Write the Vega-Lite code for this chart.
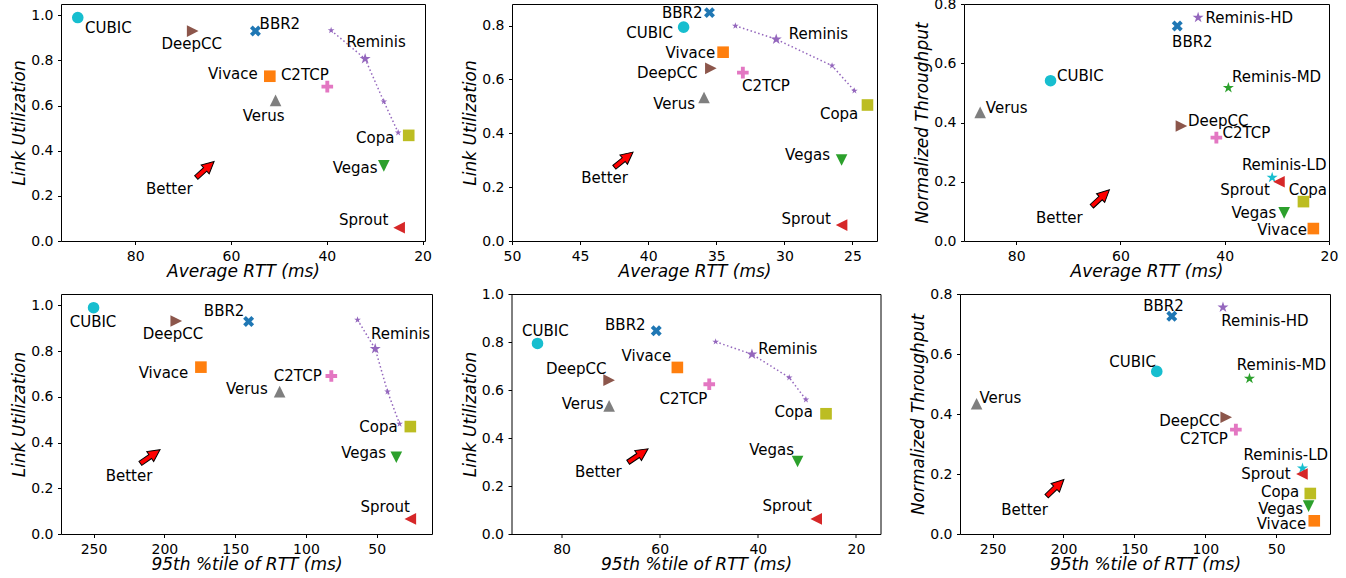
{
"$schema": "https://vega.github.io/schema/vega-lite/v6.json",
"padding": {"left": 10, "top": -4, "right": 0, "bottom": 0},
"config": {
  "view": {"stroke": "#000", "strokeWidth": 1},
  "font": "DejaVu Sans",
  "axis": {"domain": false, "grid": false, "ticks": true, "tickColor": "#000", "tickWidth": 1, "tickSize": 3.5,
    "labelFont": "DejaVu Sans", "labelFontSize": 14, "labelColor": "#000", "labelPadding": 4.5,
    "labelFlush": false, "labelOverlap": false, "labelBound": false,
    "titleFont": "DejaVu Sans", "titleFontSize": 17, "titleFontStyle": "italic", "titleFontWeight": "normal", "titleColor": "#000"},
  "axisX": {"titlePadding": 0},
  "axisY": {"titlePadding": 2},
  "text": {"font": "DejaVu Sans", "fontSize": 15, "color": "#000", "align": "center", "baseline": "middle"}
},
"datasets": {
  "pts": [
    {"panel":1,"method":"CUBIC","x":92.0,"y":0.99,"lx":85.6,"ly":0.945},
    {"panel":1,"method":"DeepCC","x":68.0,"y":0.930,"lx":68.2,"ly":0.871},
    {"panel":1,"method":"BBR2","x":54.9,"y":0.930,"lx":49.8,"ly":0.963},
    {"panel":1,"method":"Vivace","x":51.9,"y":0.730,"lx":59.6,"ly":0.740},
    {"panel":1,"method":"C2TCP","x":39.9,"y":0.684,"lx":44.6,"ly":0.736},
    {"panel":1,"method":"Verus","x":50.7,"y":0.623,"lx":53.2,"ly":0.554},
    {"panel":1,"method":"Reminis","x":32.0,"y":0.807,"lx":29.7,"ly":0.881},
    {"panel":1,"method":"Copa","x":22.9,"y":0.468,"lx":29.9,"ly":0.458},
    {"panel":1,"method":"Vegas","x":28.1,"y":0.333,"lx":34.1,"ly":0.324},
    {"panel":1,"method":"Sprout","x":24.9,"y":0.059,"lx":32.3,"ly":0.094},
    {"panel":1,"method":"Better","x":65.4,"y":0.317,"lx":72.9,"ly":0.232},

    {"panel":2,"method":"BBR2","x":35.5,"y":0.848,"lx":37.5,"ly":0.848},
    {"panel":2,"method":"CUBIC","x":37.4,"y":0.794,"lx":39.9,"ly":0.772},
    {"panel":2,"method":"Vivace","x":34.5,"y":0.701,"lx":36.9,"ly":0.697},
    {"panel":2,"method":"DeepCC","x":35.4,"y":0.641,"lx":38.6,"ly":0.625},
    {"panel":2,"method":"C2TCP","x":33.05,"y":0.625,"lx":31.35,"ly":0.576},
    {"panel":2,"method":"Verus","x":35.9,"y":0.533,"lx":38.1,"ly":0.508},
    {"panel":2,"method":"Reminis","x":30.6,"y":0.749,"lx":27.5,"ly":0.768},
    {"panel":2,"method":"Copa","x":23.9,"y":0.505,"lx":25.98,"ly":0.472},
    {"panel":2,"method":"Vegas","x":25.8,"y":0.301,"lx":28.3,"ly":0.318},
    {"panel":2,"method":"Sprout","x":25.8,"y":0.059,"lx":28.4,"ly":0.082},
    {"panel":2,"method":"Better","x":41.8,"y":0.302,"lx":43.2,"ly":0.235},

    {"panel":3,"method":"Reminis-HD","x":45.1,"y":0.754,"lx":35.3,"ly":0.754},
    {"panel":3,"method":"BBR2","x":49.1,"y":0.726,"lx":46.2,"ly":0.671},
    {"panel":3,"method":"CUBIC","x":73.4,"y":0.541,"lx":67.7,"ly":0.558},
    {"panel":3,"method":"Reminis-MD","x":39.3,"y":0.517,"lx":30.05,"ly":0.552},
    {"panel":3,"method":"Verus","x":86.9,"y":0.434,"lx":81.8,"ly":0.450},
    {"panel":3,"method":"DeepCC","x":48.3,"y":0.388,"lx":41.25,"ly":0.406},
    {"panel":3,"method":"C2TCP","x":41.6,"y":0.349,"lx":35.85,"ly":0.366},
    {"panel":3,"method":"Reminis-LD","x":30.9,"y":0.214,"lx":28.6,"ly":0.256},
    {"panel":3,"method":"Sprout","x":29.6,"y":0.200,"lx":36.1,"ly":0.173},
    {"panel":3,"method":"Copa","x":24.9,"y":0.133,"lx":24.05,"ly":0.173},
    {"panel":3,"method":"Vegas","x":28.6,"y":0.095,"lx":34.4,"ly":0.094},
    {"panel":3,"method":"Vivace","x":23.0,"y":0.042,"lx":29.0,"ly":0.037},
    {"panel":3,"method":"Better","x":63.8,"y":0.145,"lx":71.7,"ly":0.076},

    {"panel":4,"method":"CUBIC","x":250,"y":0.99,"lx":250.4,"ly":0.927},
    {"panel":4,"method":"DeepCC","x":191.6,"y":0.932,"lx":193.9,"ly":0.876},
    {"panel":4,"method":"BBR2","x":140.5,"y":0.930,"lx":157.8,"ly":0.974},
    {"panel":4,"method":"Vivace","x":174.2,"y":0.730,"lx":200.6,"ly":0.704},
    {"panel":4,"method":"C2TCP","x":82.1,"y":0.691,"lx":105.8,"ly":0.691},
    {"panel":4,"method":"Verus","x":118.6,"y":0.623,"lx":141.8,"ly":0.635},
    {"panel":4,"method":"Reminis","x":51.1,"y":0.810,"lx":33.2,"ly":0.873},
    {"panel":4,"method":"Copa","x":26.3,"y":0.470,"lx":48.8,"ly":0.470},
    {"panel":4,"method":"Vegas","x":36.2,"y":0.336,"lx":59.3,"ly":0.353},
    {"panel":4,"method":"Sprout","x":26.3,"y":0.066,"lx":44.0,"ly":0.117},
    {"panel":4,"method":"Better","x":210.0,"y":0.339,"lx":225.0,"ly":0.255},

    {"panel":5,"method":"CUBIC","x":84.9,"y":0.794,"lx":83.3,"ly":0.845},
    {"panel":5,"method":"BBR2","x":60.7,"y":0.847,"lx":67.0,"ly":0.870},
    {"panel":5,"method":"Vivace","x":56.4,"y":0.694,"lx":62.7,"ly":0.741},
    {"panel":5,"method":"DeepCC","x":70.3,"y":0.641,"lx":77.0,"ly":0.687},
    {"panel":5,"method":"C2TCP","x":49.9,"y":0.624,"lx":55.15,"ly":0.561},
    {"panel":5,"method":"Verus","x":70.3,"y":0.534,"lx":75.7,"ly":0.540},
    {"panel":5,"method":"Reminis","x":41.2,"y":0.749,"lx":33.9,"ly":0.769},
    {"panel":5,"method":"Copa","x":26.1,"y":0.501,"lx":32.7,"ly":0.509},
    {"panel":5,"method":"Vegas","x":31.9,"y":0.302,"lx":37.2,"ly":0.351},
    {"panel":5,"method":"Sprout","x":28.1,"y":0.063,"lx":34.0,"ly":0.118},
    {"panel":5,"method":"Better","x":64.4,"y":0.327,"lx":72.5,"ly":0.258},

    {"panel":6,"method":"Reminis-HD","x":87.5,"y":0.756,"lx":57.9,"ly":0.710},
    {"panel":6,"method":"BBR2","x":123.6,"y":0.726,"lx":129.5,"ly":0.759},
    {"panel":6,"method":"CUBIC","x":134.2,"y":0.542,"lx":151.3,"ly":0.575},
    {"panel":6,"method":"Reminis-MD","x":68.8,"y":0.518,"lx":46.3,"ly":0.564},
    {"panel":6,"method":"Verus","x":261.3,"y":0.434,"lx":244.5,"ly":0.452},
    {"panel":6,"method":"DeepCC","x":85.2,"y":0.389,"lx":111.2,"ly":0.376},
    {"panel":6,"method":"C2TCP","x":78.4,"y":0.348,"lx":100.9,"ly":0.317},
    {"panel":6,"method":"Reminis-LD","x":31.4,"y":0.219,"lx":43.2,"ly":0.264},
    {"panel":6,"method":"Sprout","x":31.8,"y":0.200,"lx":57.2,"ly":0.200},
    {"panel":6,"method":"Copa","x":25.9,"y":0.135,"lx":47.2,"ly":0.140},
    {"panel":6,"method":"Vegas","x":27.1,"y":0.093,"lx":46.8,"ly":0.085},
    {"panel":6,"method":"Vivace","x":23.1,"y":0.044,"lx":46.2,"ly":0.033},
    {"panel":6,"method":"Better","x":205.8,"y":0.154,"lx":227.4,"ly":0.080}
  ],
  "sweep": [
    {"panel":1,"x":39.1,"y":0.933},{"panel":1,"x":32.0,"y":0.807},{"panel":1,"x":28.1,"y":0.618},{"panel":1,"x":25.1,"y":0.480},
    {"panel":2,"x":33.6,"y":0.799},{"panel":2,"x":30.6,"y":0.749},{"panel":2,"x":26.5,"y":0.651},{"panel":2,"x":24.86,"y":0.558},
    {"panel":4,"x":63.6,"y":0.937},{"panel":4,"x":51.1,"y":0.810},{"panel":4,"x":42.4,"y":0.623},{"panel":4,"x":33.9,"y":0.482},
    {"panel":5,"x":48.6,"y":0.801},{"panel":5,"x":41.2,"y":0.749},{"panel":5,"x":33.6,"y":0.652},{"panel":5,"x":30.2,"y":0.560}
  ]
},
"spacing": 6,
"vconcat": [
{"hconcat": [
{"width": 364, "height": 237,
 "layer": [
  {"data": {"name": "sweep"}, "transform": [{"filter": "datum.panel == 1"}],
   "mark": {"type": "line", "color": "#9467bd", "strokeWidth": 1.5, "strokeDash": [1.5, 2.5], "point": {"filled": true, "opacity": 1, "color": "#9467bd", "shape": "M0,-1L0.2245,-0.309L0.951,-0.309L0.363,0.118L0.588,0.809L0,0.382L-0.588,0.809L-0.363,0.118L-0.951,-0.309L-0.2245,-0.309Z", "size": 50}},
   "encoding": {"x": {"field": "x", "type": "quantitative", "scale": {"domain": [19.5, 95.5], "reverse": true, "nice": false, "zero": false}, "axis": {"values": [20,40,60,80], "format": "d", "title": "Average RTT (ms)"}},
                "y": {"field": "y", "type": "quantitative", "scale": {"domain": [0, 1.05], "nice": false, "zero": false}, "axis": {"values": [0,0.2,0.4,0.6,0.8,1.0], "format": ".1f", "title": "Link Utilization"}}}},
  {"data": {"name": "pts"}, "transform": [{"filter": "datum.panel == 1 && datum.method != 'Better'"}],
   "mark": {"type": "point", "filled": true, "opacity": 1},
   "encoding": {"x": {"field": "x", "type": "quantitative", "scale": {"domain": [19.5, 95.5], "reverse": true, "nice": false, "zero": false}, "axis": {"values": [20,40,60,80], "format": "d", "title": "Average RTT (ms)"}},
                "y": {"field": "y", "type": "quantitative", "scale": {"domain": [0, 1.05], "nice": false, "zero": false}, "axis": {"values": [0,0.2,0.4,0.6,0.8,1.0], "format": ".1f", "title": "Link Utilization"}},
                "color": {"field": "method", "type": "nominal", "legend": null, "scale": {"domain": ["BBR2","Vivace","Vegas","Sprout","Reminis","DeepCC","C2TCP","Verus","Copa","CUBIC","Reminis-HD","Reminis-MD","Reminis-LD"], "range": ["#1f77b4","#ff7f0e","#2ca02c","#d62728","#9467bd","#8c564b","#e377c2","#7f7f7f","#bcbd22","#17becf","#9467bd","#2ca02c","#17becf"]}},
                "shape": {"field": "method", "type": "nominal", "legend": null, "scale": {"domain": ["BBR2","Vivace","Vegas","Sprout","Reminis","DeepCC","C2TCP","Verus","Copa","CUBIC","Reminis-HD","Reminis-MD","Reminis-LD"], "range": ["M0.471,-0.943L0.943,-0.471L0.471,0L0.943,0.471L0.471,0.943L0,0.471L-0.471,0.943L-0.943,0.471L-0.471,0L-0.943,-0.471L-0.471,-0.943L0,-0.471Z","square","M0,1L1,-1L-1,-1Z","M-1,0L1,-1L1,1Z","M0,-1L0.2245,-0.309L0.951,-0.309L0.363,0.118L0.588,0.809L0,0.382L-0.588,0.809L-0.363,0.118L-0.951,-0.309L-0.2245,-0.309Z","M1,0L-1,-1L-1,1Z","M-0.333,-1L0.333,-1L0.333,-0.333L1,-0.333L1,0.333L0.333,0.333L0.333,1L-0.333,1L-0.333,0.333L-1,0.333L-1,-0.333L-0.333,-0.333Z","M0,-1L1,1L-1,1Z","square","circle","M0,-1L0.2245,-0.309L0.951,-0.309L0.363,0.118L0.588,0.809L0,0.382L-0.588,0.809L-0.363,0.118L-0.951,-0.309L-0.2245,-0.309Z","M0,-1L0.2245,-0.309L0.951,-0.309L0.363,0.118L0.588,0.809L0,0.382L-0.588,0.809L-0.363,0.118L-0.951,-0.309L-0.2245,-0.309Z","M0,-1L0.2245,-0.309L0.951,-0.309L0.363,0.118L0.588,0.809L0,0.382L-0.588,0.809L-0.363,0.118L-0.951,-0.309L-0.2245,-0.309Z"]}},
                "size": {"field": "method", "type": "nominal", "legend": null, "scale": {"domain": ["BBR2","Vivace","Vegas","Sprout","Reminis","DeepCC","C2TCP","Verus","Copa","CUBIC","Reminis-HD","Reminis-MD","Reminis-LD"], "range": [135,135,121,121,85,121,121,121,135,121,85,85,85]}}}},
  {"data": {"name": "pts"}, "transform": [{"filter": "datum.panel == 1"}],
   "mark": {"type": "text"},
   "encoding": {"x": {"field": "lx", "type": "quantitative", "scale": {"domain": [19.5, 95.5], "reverse": true, "nice": false, "zero": false}, "axis": {"values": [20,40,60,80], "format": "d", "title": "Average RTT (ms)"}},
                "y": {"field": "ly", "type": "quantitative", "scale": {"domain": [0, 1.05], "nice": false, "zero": false}, "axis": {"values": [0,0.2,0.4,0.6,0.8,1.0], "format": ".1f", "title": "Link Utilization"}},
                "text": {"field": "method"}}},
  {"data": {"name": "pts"}, "transform": [{"filter": "datum.panel == 1 && datum.method == 'Better'"}],
   "mark": {"type": "point", "shape": "M-0.2,1L0.2,1L0.2,0L0.5,0L0,-1L-0.5,0L-0.2,0Z", "size": 576, "angle": 48, "filled": true, "fill": "#ff0000", "stroke": "#000", "strokeWidth": 1, "opacity": 1},
   "encoding": {"x": {"field": "x", "type": "quantitative"}, "y": {"field": "y", "type": "quantitative"}}}
 ]},
{"width": 365, "height": 237,
 "layer": [
  {"data": {"name": "sweep"}, "transform": [{"filter": "datum.panel == 2"}],
   "mark": {"type": "line", "color": "#9467bd", "strokeWidth": 1.5, "strokeDash": [1.5, 2.5], "point": {"filled": true, "opacity": 1, "color": "#9467bd", "shape": "M0,-1L0.2245,-0.309L0.951,-0.309L0.363,0.118L0.588,0.809L0,0.382L-0.588,0.809L-0.363,0.118L-0.951,-0.309L-0.2245,-0.309Z", "size": 50}},
   "encoding": {"x": {"field": "x", "type": "quantitative", "scale": {"domain": [23.2, 50], "reverse": true, "nice": false, "zero": false}, "axis": {"values": [25,30,35,40,45,50], "format": "d", "title": "Average RTT (ms)"}},
                "y": {"field": "y", "type": "quantitative", "scale": {"domain": [0, 0.88], "nice": false, "zero": false}, "axis": {"values": [0,0.2,0.4,0.6,0.8], "format": ".1f", "title": "Link Utilization"}}}},
  {"data": {"name": "pts"}, "transform": [{"filter": "datum.panel == 2 && datum.method != 'Better'"}],
   "mark": {"type": "point", "filled": true, "opacity": 1},
   "encoding": {"x": {"field": "x", "type": "quantitative", "scale": {"domain": [23.2, 50], "reverse": true, "nice": false, "zero": false}, "axis": {"values": [25,30,35,40,45,50], "format": "d", "title": "Average RTT (ms)"}},
                "y": {"field": "y", "type": "quantitative", "scale": {"domain": [0, 0.88], "nice": false, "zero": false}, "axis": {"values": [0,0.2,0.4,0.6,0.8], "format": ".1f", "title": "Link Utilization"}},
                "color": {"field": "method", "type": "nominal", "legend": null, "scale": {"domain": ["BBR2","Vivace","Vegas","Sprout","Reminis","DeepCC","C2TCP","Verus","Copa","CUBIC","Reminis-HD","Reminis-MD","Reminis-LD"], "range": ["#1f77b4","#ff7f0e","#2ca02c","#d62728","#9467bd","#8c564b","#e377c2","#7f7f7f","#bcbd22","#17becf","#9467bd","#2ca02c","#17becf"]}},
                "shape": {"field": "method", "type": "nominal", "legend": null, "scale": {"domain": ["BBR2","Vivace","Vegas","Sprout","Reminis","DeepCC","C2TCP","Verus","Copa","CUBIC","Reminis-HD","Reminis-MD","Reminis-LD"], "range": ["M0.471,-0.943L0.943,-0.471L0.471,0L0.943,0.471L0.471,0.943L0,0.471L-0.471,0.943L-0.943,0.471L-0.471,0L-0.943,-0.471L-0.471,-0.943L0,-0.471Z","square","M0,1L1,-1L-1,-1Z","M-1,0L1,-1L1,1Z","M0,-1L0.2245,-0.309L0.951,-0.309L0.363,0.118L0.588,0.809L0,0.382L-0.588,0.809L-0.363,0.118L-0.951,-0.309L-0.2245,-0.309Z","M1,0L-1,-1L-1,1Z","M-0.333,-1L0.333,-1L0.333,-0.333L1,-0.333L1,0.333L0.333,0.333L0.333,1L-0.333,1L-0.333,0.333L-1,0.333L-1,-0.333L-0.333,-0.333Z","M0,-1L1,1L-1,1Z","square","circle","M0,-1L0.2245,-0.309L0.951,-0.309L0.363,0.118L0.588,0.809L0,0.382L-0.588,0.809L-0.363,0.118L-0.951,-0.309L-0.2245,-0.309Z","M0,-1L0.2245,-0.309L0.951,-0.309L0.363,0.118L0.588,0.809L0,0.382L-0.588,0.809L-0.363,0.118L-0.951,-0.309L-0.2245,-0.309Z","M0,-1L0.2245,-0.309L0.951,-0.309L0.363,0.118L0.588,0.809L0,0.382L-0.588,0.809L-0.363,0.118L-0.951,-0.309L-0.2245,-0.309Z"]}},
                "size": {"field": "method", "type": "nominal", "legend": null, "scale": {"domain": ["BBR2","Vivace","Vegas","Sprout","Reminis","DeepCC","C2TCP","Verus","Copa","CUBIC","Reminis-HD","Reminis-MD","Reminis-LD"], "range": [135,135,121,121,85,121,121,121,135,121,85,85,85]}}}},
  {"data": {"name": "pts"}, "transform": [{"filter": "datum.panel == 2"}],
   "mark": {"type": "text"},
   "encoding": {"x": {"field": "lx", "type": "quantitative", "scale": {"domain": [23.2, 50], "reverse": true, "nice": false, "zero": false}, "axis": {"values": [25,30,35,40,45,50], "format": "d", "title": "Average RTT (ms)"}},
                "y": {"field": "ly", "type": "quantitative", "scale": {"domain": [0, 0.88], "nice": false, "zero": false}, "axis": {"values": [0,0.2,0.4,0.6,0.8], "format": ".1f", "title": "Link Utilization"}},
                "text": {"field": "method"}}},
  {"data": {"name": "pts"}, "transform": [{"filter": "datum.panel == 2 && datum.method == 'Better'"}],
   "mark": {"type": "point", "shape": "M-0.2,1L0.2,1L0.2,0L0.5,0L0,-1L-0.5,0L-0.2,0Z", "size": 576, "angle": 51, "filled": true, "fill": "#ff0000", "stroke": "#000", "strokeWidth": 1, "opacity": 1},
   "encoding": {"x": {"field": "x", "type": "quantitative"}, "y": {"field": "y", "type": "quantitative"}}}
 ]},
{"width": 365, "height": 237,
 "layer": [
  {"data": {"name": "pts"}, "transform": [{"filter": "datum.panel == 3 && datum.method != 'Better'"}],
   "mark": {"type": "point", "filled": true, "opacity": 1},
   "encoding": {"x": {"field": "x", "type": "quantitative", "scale": {"domain": [20, 90], "reverse": true, "nice": false, "zero": false}, "axis": {"values": [20,40,60,80], "format": "d", "title": "Average RTT (ms)"}},
                "y": {"field": "y", "type": "quantitative", "scale": {"domain": [0, 0.8], "nice": false, "zero": false}, "axis": {"values": [0,0.2,0.4,0.6,0.8], "format": ".1f", "title": "Normalized Throughput"}},
                "color": {"field": "method", "type": "nominal", "legend": null, "scale": {"domain": ["BBR2","Vivace","Vegas","Sprout","Reminis","DeepCC","C2TCP","Verus","Copa","CUBIC","Reminis-HD","Reminis-MD","Reminis-LD"], "range": ["#1f77b4","#ff7f0e","#2ca02c","#d62728","#9467bd","#8c564b","#e377c2","#7f7f7f","#bcbd22","#17becf","#9467bd","#2ca02c","#17becf"]}},
                "shape": {"field": "method", "type": "nominal", "legend": null, "scale": {"domain": ["BBR2","Vivace","Vegas","Sprout","Reminis","DeepCC","C2TCP","Verus","Copa","CUBIC","Reminis-HD","Reminis-MD","Reminis-LD"], "range": ["M0.471,-0.943L0.943,-0.471L0.471,0L0.943,0.471L0.471,0.943L0,0.471L-0.471,0.943L-0.943,0.471L-0.471,0L-0.943,-0.471L-0.471,-0.943L0,-0.471Z","square","M0,1L1,-1L-1,-1Z","M-1,0L1,-1L1,1Z","M0,-1L0.2245,-0.309L0.951,-0.309L0.363,0.118L0.588,0.809L0,0.382L-0.588,0.809L-0.363,0.118L-0.951,-0.309L-0.2245,-0.309Z","M1,0L-1,-1L-1,1Z","M-0.333,-1L0.333,-1L0.333,-0.333L1,-0.333L1,0.333L0.333,0.333L0.333,1L-0.333,1L-0.333,0.333L-1,0.333L-1,-0.333L-0.333,-0.333Z","M0,-1L1,1L-1,1Z","square","circle","M0,-1L0.2245,-0.309L0.951,-0.309L0.363,0.118L0.588,0.809L0,0.382L-0.588,0.809L-0.363,0.118L-0.951,-0.309L-0.2245,-0.309Z","M0,-1L0.2245,-0.309L0.951,-0.309L0.363,0.118L0.588,0.809L0,0.382L-0.588,0.809L-0.363,0.118L-0.951,-0.309L-0.2245,-0.309Z","M0,-1L0.2245,-0.309L0.951,-0.309L0.363,0.118L0.588,0.809L0,0.382L-0.588,0.809L-0.363,0.118L-0.951,-0.309L-0.2245,-0.309Z"]}},
                "size": {"field": "method", "type": "nominal", "legend": null, "scale": {"domain": ["BBR2","Vivace","Vegas","Sprout","Reminis","DeepCC","C2TCP","Verus","Copa","CUBIC","Reminis-HD","Reminis-MD","Reminis-LD"], "range": [135,135,121,121,85,121,121,121,135,121,85,85,85]}}}},
  {"data": {"name": "pts"}, "transform": [{"filter": "datum.panel == 3"}],
   "mark": {"type": "text"},
   "encoding": {"x": {"field": "lx", "type": "quantitative", "scale": {"domain": [20, 90], "reverse": true, "nice": false, "zero": false}, "axis": {"values": [20,40,60,80], "format": "d", "title": "Average RTT (ms)"}},
                "y": {"field": "ly", "type": "quantitative", "scale": {"domain": [0, 0.8], "nice": false, "zero": false}, "axis": {"values": [0,0.2,0.4,0.6,0.8], "format": ".1f", "title": "Normalized Throughput"}},
                "text": {"field": "method"}}},
  {"data": {"name": "pts"}, "transform": [{"filter": "datum.panel == 3 && datum.method == 'Better'"}],
   "mark": {"type": "point", "shape": "M-0.2,1L0.2,1L0.2,0L0.5,0L0,-1L-0.5,0L-0.2,0Z", "size": 576, "angle": 47, "filled": true, "fill": "#ff0000", "stroke": "#000", "strokeWidth": 1, "opacity": 1},
   "encoding": {"x": {"field": "x", "type": "quantitative"}, "y": {"field": "y", "type": "quantitative"}}}
 ]}
], "spacing": 87, "bounds": "flush"},
{"hconcat": [
{"width": 371, "height": 240,
 "layer": [
  {"data": {"name": "sweep"}, "transform": [{"filter": "datum.panel == 4"}],
   "mark": {"type": "line", "color": "#9467bd", "strokeWidth": 1.5, "strokeDash": [1.5, 2.5], "point": {"filled": true, "opacity": 1, "color": "#9467bd", "shape": "M0,-1L0.2245,-0.309L0.951,-0.309L0.363,0.118L0.588,0.809L0,0.382L-0.588,0.809L-0.363,0.118L-0.951,-0.309L-0.2245,-0.309Z", "size": 50}},
   "encoding": {"x": {"field": "x", "type": "quantitative", "scale": {"domain": [11, 273], "reverse": true, "nice": false, "zero": false}, "axis": {"values": [50,100,150,200,250], "format": "d", "title": "95th %tile of RTT (ms)"}},
                "y": {"field": "y", "type": "quantitative", "scale": {"domain": [0, 1.05], "nice": false, "zero": false}, "axis": {"values": [0,0.2,0.4,0.6,0.8,1.0], "format": ".1f", "title": "Link Utilization"}}}},
  {"data": {"name": "pts"}, "transform": [{"filter": "datum.panel == 4 && datum.method != 'Better'"}],
   "mark": {"type": "point", "filled": true, "opacity": 1},
   "encoding": {"x": {"field": "x", "type": "quantitative", "scale": {"domain": [11, 273], "reverse": true, "nice": false, "zero": false}, "axis": {"values": [50,100,150,200,250], "format": "d", "title": "95th %tile of RTT (ms)"}},
                "y": {"field": "y", "type": "quantitative", "scale": {"domain": [0, 1.05], "nice": false, "zero": false}, "axis": {"values": [0,0.2,0.4,0.6,0.8,1.0], "format": ".1f", "title": "Link Utilization"}},
                "color": {"field": "method", "type": "nominal", "legend": null, "scale": {"domain": ["BBR2","Vivace","Vegas","Sprout","Reminis","DeepCC","C2TCP","Verus","Copa","CUBIC","Reminis-HD","Reminis-MD","Reminis-LD"], "range": ["#1f77b4","#ff7f0e","#2ca02c","#d62728","#9467bd","#8c564b","#e377c2","#7f7f7f","#bcbd22","#17becf","#9467bd","#2ca02c","#17becf"]}},
                "shape": {"field": "method", "type": "nominal", "legend": null, "scale": {"domain": ["BBR2","Vivace","Vegas","Sprout","Reminis","DeepCC","C2TCP","Verus","Copa","CUBIC","Reminis-HD","Reminis-MD","Reminis-LD"], "range": ["M0.471,-0.943L0.943,-0.471L0.471,0L0.943,0.471L0.471,0.943L0,0.471L-0.471,0.943L-0.943,0.471L-0.471,0L-0.943,-0.471L-0.471,-0.943L0,-0.471Z","square","M0,1L1,-1L-1,-1Z","M-1,0L1,-1L1,1Z","M0,-1L0.2245,-0.309L0.951,-0.309L0.363,0.118L0.588,0.809L0,0.382L-0.588,0.809L-0.363,0.118L-0.951,-0.309L-0.2245,-0.309Z","M1,0L-1,-1L-1,1Z","M-0.333,-1L0.333,-1L0.333,-0.333L1,-0.333L1,0.333L0.333,0.333L0.333,1L-0.333,1L-0.333,0.333L-1,0.333L-1,-0.333L-0.333,-0.333Z","M0,-1L1,1L-1,1Z","square","circle","M0,-1L0.2245,-0.309L0.951,-0.309L0.363,0.118L0.588,0.809L0,0.382L-0.588,0.809L-0.363,0.118L-0.951,-0.309L-0.2245,-0.309Z","M0,-1L0.2245,-0.309L0.951,-0.309L0.363,0.118L0.588,0.809L0,0.382L-0.588,0.809L-0.363,0.118L-0.951,-0.309L-0.2245,-0.309Z","M0,-1L0.2245,-0.309L0.951,-0.309L0.363,0.118L0.588,0.809L0,0.382L-0.588,0.809L-0.363,0.118L-0.951,-0.309L-0.2245,-0.309Z"]}},
                "size": {"field": "method", "type": "nominal", "legend": null, "scale": {"domain": ["BBR2","Vivace","Vegas","Sprout","Reminis","DeepCC","C2TCP","Verus","Copa","CUBIC","Reminis-HD","Reminis-MD","Reminis-LD"], "range": [135,135,121,121,85,121,121,121,135,121,85,85,85]}}}},
  {"data": {"name": "pts"}, "transform": [{"filter": "datum.panel == 4"}],
   "mark": {"type": "text"},
   "encoding": {"x": {"field": "lx", "type": "quantitative", "scale": {"domain": [11, 273], "reverse": true, "nice": false, "zero": false}, "axis": {"values": [50,100,150,200,250], "format": "d", "title": "95th %tile of RTT (ms)"}},
                "y": {"field": "ly", "type": "quantitative", "scale": {"domain": [0, 1.05], "nice": false, "zero": false}, "axis": {"values": [0,0.2,0.4,0.6,0.8,1.0], "format": ".1f", "title": "Link Utilization"}},
                "text": {"field": "method"}}},
  {"data": {"name": "pts"}, "transform": [{"filter": "datum.panel == 4 && datum.method == 'Better'"}],
   "mark": {"type": "point", "shape": "M-0.2,1L0.2,1L0.2,0L0.5,0L0,-1L-0.5,0L-0.2,0Z", "size": 576, "angle": 55, "filled": true, "fill": "#ff0000", "stroke": "#000", "strokeWidth": 1, "opacity": 1},
   "encoding": {"x": {"field": "x", "type": "quantitative"}, "y": {"field": "y", "type": "quantitative"}}}
 ]},
{"width": 369, "height": 240,
 "layer": [
  {"data": {"name": "sweep"}, "transform": [{"filter": "datum.panel == 5"}],
   "mark": {"type": "line", "color": "#9467bd", "strokeWidth": 1.5, "strokeDash": [1.5, 2.5], "point": {"filled": true, "opacity": 1, "color": "#9467bd", "shape": "M0,-1L0.2245,-0.309L0.951,-0.309L0.363,0.118L0.588,0.809L0,0.382L-0.588,0.809L-0.363,0.118L-0.951,-0.309L-0.2245,-0.309Z", "size": 50}},
   "encoding": {"x": {"field": "x", "type": "quantitative", "scale": {"domain": [15, 90.2], "reverse": true, "nice": false, "zero": false}, "axis": {"values": [20,40,60,80], "format": "d", "title": "95th %tile of RTT (ms)"}},
                "y": {"field": "y", "type": "quantitative", "scale": {"domain": [0, 1.0], "nice": false, "zero": false}, "axis": {"values": [0,0.2,0.4,0.6,0.8,1.0], "format": ".1f", "title": "Link Utilization"}}}},
  {"data": {"name": "pts"}, "transform": [{"filter": "datum.panel == 5 && datum.method != 'Better'"}],
   "mark": {"type": "point", "filled": true, "opacity": 1},
   "encoding": {"x": {"field": "x", "type": "quantitative", "scale": {"domain": [15, 90.2], "reverse": true, "nice": false, "zero": false}, "axis": {"values": [20,40,60,80], "format": "d", "title": "95th %tile of RTT (ms)"}},
                "y": {"field": "y", "type": "quantitative", "scale": {"domain": [0, 1.0], "nice": false, "zero": false}, "axis": {"values": [0,0.2,0.4,0.6,0.8,1.0], "format": ".1f", "title": "Link Utilization"}},
                "color": {"field": "method", "type": "nominal", "legend": null, "scale": {"domain": ["BBR2","Vivace","Vegas","Sprout","Reminis","DeepCC","C2TCP","Verus","Copa","CUBIC","Reminis-HD","Reminis-MD","Reminis-LD"], "range": ["#1f77b4","#ff7f0e","#2ca02c","#d62728","#9467bd","#8c564b","#e377c2","#7f7f7f","#bcbd22","#17becf","#9467bd","#2ca02c","#17becf"]}},
                "shape": {"field": "method", "type": "nominal", "legend": null, "scale": {"domain": ["BBR2","Vivace","Vegas","Sprout","Reminis","DeepCC","C2TCP","Verus","Copa","CUBIC","Reminis-HD","Reminis-MD","Reminis-LD"], "range": ["M0.471,-0.943L0.943,-0.471L0.471,0L0.943,0.471L0.471,0.943L0,0.471L-0.471,0.943L-0.943,0.471L-0.471,0L-0.943,-0.471L-0.471,-0.943L0,-0.471Z","square","M0,1L1,-1L-1,-1Z","M-1,0L1,-1L1,1Z","M0,-1L0.2245,-0.309L0.951,-0.309L0.363,0.118L0.588,0.809L0,0.382L-0.588,0.809L-0.363,0.118L-0.951,-0.309L-0.2245,-0.309Z","M1,0L-1,-1L-1,1Z","M-0.333,-1L0.333,-1L0.333,-0.333L1,-0.333L1,0.333L0.333,0.333L0.333,1L-0.333,1L-0.333,0.333L-1,0.333L-1,-0.333L-0.333,-0.333Z","M0,-1L1,1L-1,1Z","square","circle","M0,-1L0.2245,-0.309L0.951,-0.309L0.363,0.118L0.588,0.809L0,0.382L-0.588,0.809L-0.363,0.118L-0.951,-0.309L-0.2245,-0.309Z","M0,-1L0.2245,-0.309L0.951,-0.309L0.363,0.118L0.588,0.809L0,0.382L-0.588,0.809L-0.363,0.118L-0.951,-0.309L-0.2245,-0.309Z","M0,-1L0.2245,-0.309L0.951,-0.309L0.363,0.118L0.588,0.809L0,0.382L-0.588,0.809L-0.363,0.118L-0.951,-0.309L-0.2245,-0.309Z"]}},
                "size": {"field": "method", "type": "nominal", "legend": null, "scale": {"domain": ["BBR2","Vivace","Vegas","Sprout","Reminis","DeepCC","C2TCP","Verus","Copa","CUBIC","Reminis-HD","Reminis-MD","Reminis-LD"], "range": [135,135,121,121,85,121,121,121,135,121,85,85,85]}}}},
  {"data": {"name": "pts"}, "transform": [{"filter": "datum.panel == 5"}],
   "mark": {"type": "text"},
   "encoding": {"x": {"field": "lx", "type": "quantitative", "scale": {"domain": [15, 90.2], "reverse": true, "nice": false, "zero": false}, "axis": {"values": [20,40,60,80], "format": "d", "title": "95th %tile of RTT (ms)"}},
                "y": {"field": "ly", "type": "quantitative", "scale": {"domain": [0, 1.0], "nice": false, "zero": false}, "axis": {"values": [0,0.2,0.4,0.6,0.8,1.0], "format": ".1f", "title": "Link Utilization"}},
                "text": {"field": "method"}}},
  {"data": {"name": "pts"}, "transform": [{"filter": "datum.panel == 5 && datum.method == 'Better'"}],
   "mark": {"type": "point", "shape": "M-0.2,1L0.2,1L0.2,0L0.5,0L0,-1L-0.5,0L-0.2,0Z", "size": 576, "angle": 56, "filled": true, "fill": "#ff0000", "stroke": "#000", "strokeWidth": 1, "opacity": 1},
   "encoding": {"x": {"field": "x", "type": "quantitative"}, "y": {"field": "y", "type": "quantitative"}}}
 ]},
{"width": 370, "height": 240,
 "layer": [
  {"data": {"name": "pts"}, "transform": [{"filter": "datum.panel == 6 && datum.method != 'Better'"}],
   "mark": {"type": "point", "filled": true, "opacity": 1},
   "encoding": {"x": {"field": "x", "type": "quantitative", "scale": {"domain": [12, 273], "reverse": true, "nice": false, "zero": false}, "axis": {"values": [50,100,150,200,250], "format": "d", "title": "95th %tile of RTT (ms)"}},
                "y": {"field": "y", "type": "quantitative", "scale": {"domain": [0, 0.8], "nice": false, "zero": false}, "axis": {"values": [0,0.2,0.4,0.6,0.8], "format": ".1f", "title": "Normalized Throughput"}},
                "color": {"field": "method", "type": "nominal", "legend": null, "scale": {"domain": ["BBR2","Vivace","Vegas","Sprout","Reminis","DeepCC","C2TCP","Verus","Copa","CUBIC","Reminis-HD","Reminis-MD","Reminis-LD"], "range": ["#1f77b4","#ff7f0e","#2ca02c","#d62728","#9467bd","#8c564b","#e377c2","#7f7f7f","#bcbd22","#17becf","#9467bd","#2ca02c","#17becf"]}},
                "shape": {"field": "method", "type": "nominal", "legend": null, "scale": {"domain": ["BBR2","Vivace","Vegas","Sprout","Reminis","DeepCC","C2TCP","Verus","Copa","CUBIC","Reminis-HD","Reminis-MD","Reminis-LD"], "range": ["M0.471,-0.943L0.943,-0.471L0.471,0L0.943,0.471L0.471,0.943L0,0.471L-0.471,0.943L-0.943,0.471L-0.471,0L-0.943,-0.471L-0.471,-0.943L0,-0.471Z","square","M0,1L1,-1L-1,-1Z","M-1,0L1,-1L1,1Z","M0,-1L0.2245,-0.309L0.951,-0.309L0.363,0.118L0.588,0.809L0,0.382L-0.588,0.809L-0.363,0.118L-0.951,-0.309L-0.2245,-0.309Z","M1,0L-1,-1L-1,1Z","M-0.333,-1L0.333,-1L0.333,-0.333L1,-0.333L1,0.333L0.333,0.333L0.333,1L-0.333,1L-0.333,0.333L-1,0.333L-1,-0.333L-0.333,-0.333Z","M0,-1L1,1L-1,1Z","square","circle","M0,-1L0.2245,-0.309L0.951,-0.309L0.363,0.118L0.588,0.809L0,0.382L-0.588,0.809L-0.363,0.118L-0.951,-0.309L-0.2245,-0.309Z","M0,-1L0.2245,-0.309L0.951,-0.309L0.363,0.118L0.588,0.809L0,0.382L-0.588,0.809L-0.363,0.118L-0.951,-0.309L-0.2245,-0.309Z","M0,-1L0.2245,-0.309L0.951,-0.309L0.363,0.118L0.588,0.809L0,0.382L-0.588,0.809L-0.363,0.118L-0.951,-0.309L-0.2245,-0.309Z"]}},
                "size": {"field": "method", "type": "nominal", "legend": null, "scale": {"domain": ["BBR2","Vivace","Vegas","Sprout","Reminis","DeepCC","C2TCP","Verus","Copa","CUBIC","Reminis-HD","Reminis-MD","Reminis-LD"], "range": [135,135,121,121,85,121,121,121,135,121,85,85,85]}}}},
  {"data": {"name": "pts"}, "transform": [{"filter": "datum.panel == 6"}],
   "mark": {"type": "text"},
   "encoding": {"x": {"field": "lx", "type": "quantitative", "scale": {"domain": [12, 273], "reverse": true, "nice": false, "zero": false}, "axis": {"values": [50,100,150,200,250], "format": "d", "title": "95th %tile of RTT (ms)"}},
                "y": {"field": "ly", "type": "quantitative", "scale": {"domain": [0, 0.8], "nice": false, "zero": false}, "axis": {"values": [0,0.2,0.4,0.6,0.8], "format": ".1f", "title": "Normalized Throughput"}},
                "text": {"field": "method"}}},
  {"data": {"name": "pts"}, "transform": [{"filter": "datum.panel == 6 && datum.method == 'Better'"}],
   "mark": {"type": "point", "shape": "M-0.2,1L0.2,1L0.2,0L0.5,0L0,-1L-0.5,0L-0.2,0Z", "size": 576, "angle": 46, "filled": true, "fill": "#ff0000", "stroke": "#000", "strokeWidth": 1, "opacity": 1},
   "encoding": {"x": {"field": "x", "type": "quantitative"}, "y": {"field": "y", "type": "quantitative"}}}
 ]}
], "spacing": 79.5, "bounds": "flush"}
]
}
